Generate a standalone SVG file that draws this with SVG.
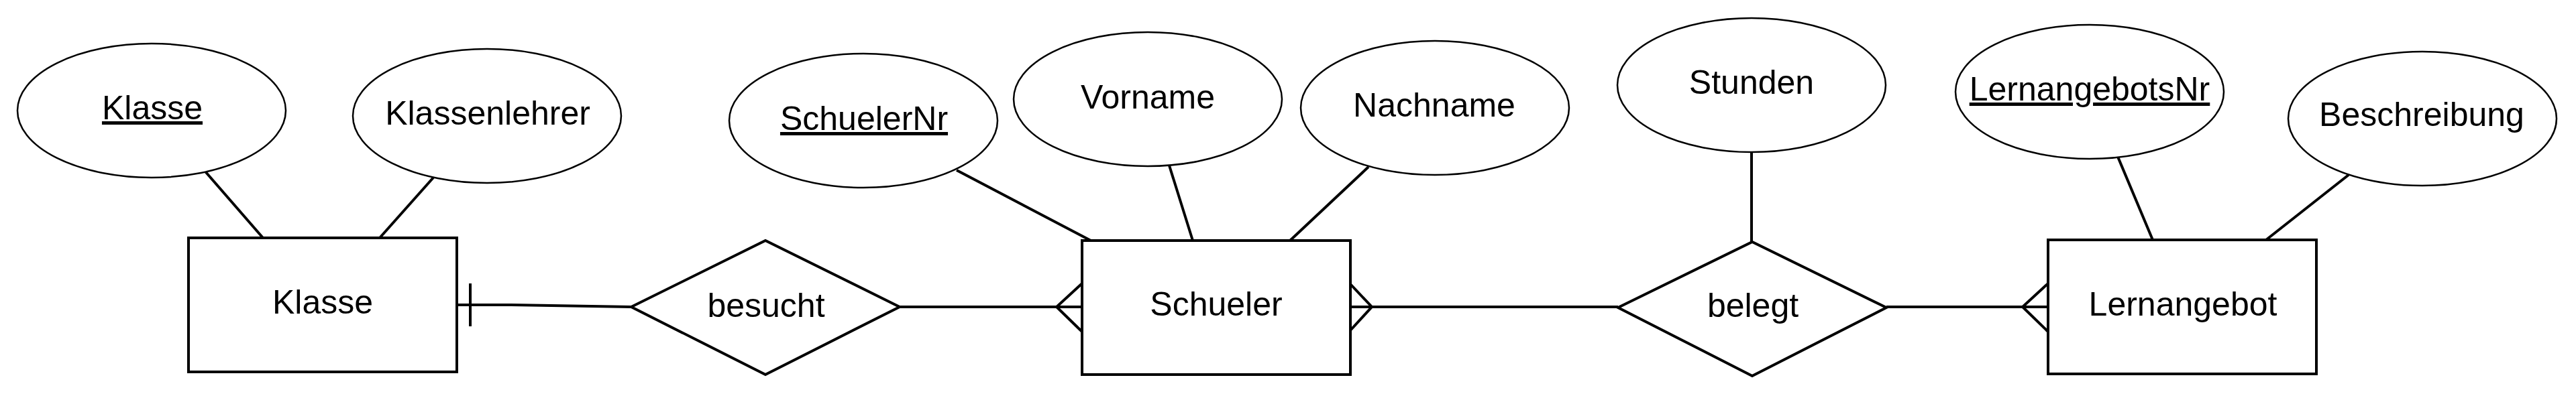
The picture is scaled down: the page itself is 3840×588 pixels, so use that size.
<svg xmlns="http://www.w3.org/2000/svg" width="3840" height="588" viewBox="0 0 3840 588">
<style>
.bg{fill:#fff}
.attr{fill:#fff;stroke:#000;stroke-width:2.5}
.ent{fill:#fff;stroke:#000;stroke-width:4}
.rel{fill:#fff;stroke:#000;stroke-width:4}
.con{fill:none;stroke:#000;stroke-width:4}
text{font-family:"Liberation Sans",Arial,sans-serif;font-size:50px;fill:#000;text-anchor:middle}
.key{text-decoration:underline;text-underline-offset:9px;text-decoration-thickness:3.5px}
</style>
<rect class="bg" x="0" y="0" width="3840" height="588"/>
<g id="connectors">
<line class="con" x1="306" y1="256" x2="392" y2="355"/>
<line class="con" x1="646" y1="265" x2="566" y2="355"/>
<line class="con" x1="1426" y1="254" x2="1626" y2="359"/>
<line class="con" x1="1743" y1="247" x2="1778" y2="359"/>
<line class="con" x1="2040" y1="249" x2="1923" y2="359"/>
<line class="con" x1="2611" y1="227" x2="2611" y2="361"/>
<line class="con" x1="3157" y1="234" x2="3209" y2="358"/>
<line class="con" x1="3501" y1="261" x2="3378" y2="358"/>
<polyline class="con" points="681,455 759,455 941,458"/>
<line class="con" x1="701" y1="423" x2="701" y2="487"/>
<line class="con" x1="1341" y1="458" x2="1613" y2="458"/>
<polyline class="con" points="1613,423 1575,458 1613,495"/>
<line class="con" x1="2013" y1="458" x2="2412" y2="458"/>
<polyline class="con" points="2013,424 2045,458 2013,493"/>
<line class="con" x1="2812" y1="458" x2="3053" y2="458"/>
<polyline class="con" points="3053,423 3015,458 3053,495"/>
</g>
<g id="attr-klasse"><ellipse class="attr" cx="226" cy="165" rx="200" ry="100"/><text class="key" x="227" y="178">Klasse</text></g>
<g id="attr-klassenlehrer"><ellipse class="attr" cx="726" cy="173" rx="200" ry="100"/><text x="727" y="186">Klassenlehrer</text></g>
<g id="ent-klasse"><rect class="ent" x="281" y="355" width="400" height="200"/><text x="481" y="468">Klasse</text></g>
<g id="rel-besucht"><polygon class="rel" points="941,458 1141,359 1341,458 1141,559"/><text x="1142" y="473">besucht</text></g>
<g id="attr-schuelernr"><ellipse class="attr" cx="1287" cy="180" rx="200" ry="100"/><text class="key" x="1288" y="194">SchuelerNr</text></g>
<g id="attr-vorname"><ellipse class="attr" cx="1711" cy="148" rx="200" ry="100"/><text x="1711" y="162">Vorname</text></g>
<g id="attr-nachname"><ellipse class="attr" cx="2139" cy="161" rx="200" ry="100"/><text x="2138" y="174">Nachname</text></g>
<g id="ent-schueler"><rect class="ent" x="1613" y="359" width="400" height="200"/><text x="1813" y="471">Schueler</text></g>
<g id="attr-stunden"><ellipse class="attr" cx="2611" cy="127" rx="200" ry="100"/><text x="2611" y="140">Stunden</text></g>
<g id="rel-belegt"><polygon class="rel" points="2412,459 2612,361 2812,459 2612,561"/><text x="2613" y="473">belegt</text></g>
<g id="attr-lernangebotsnr"><ellipse class="attr" cx="3115" cy="137" rx="200" ry="100"/><text class="key" x="3115" y="150">LernangebotsNr</text></g>
<g id="attr-beschreibung"><ellipse class="attr" cx="3611" cy="177" rx="200" ry="100"/><text x="3610" y="188">Beschreibung</text></g>
<g id="ent-lernangebot"><rect class="ent" x="3053" y="358" width="400" height="200"/><text x="3254" y="471">Lernangebot</text></g>
</svg>
